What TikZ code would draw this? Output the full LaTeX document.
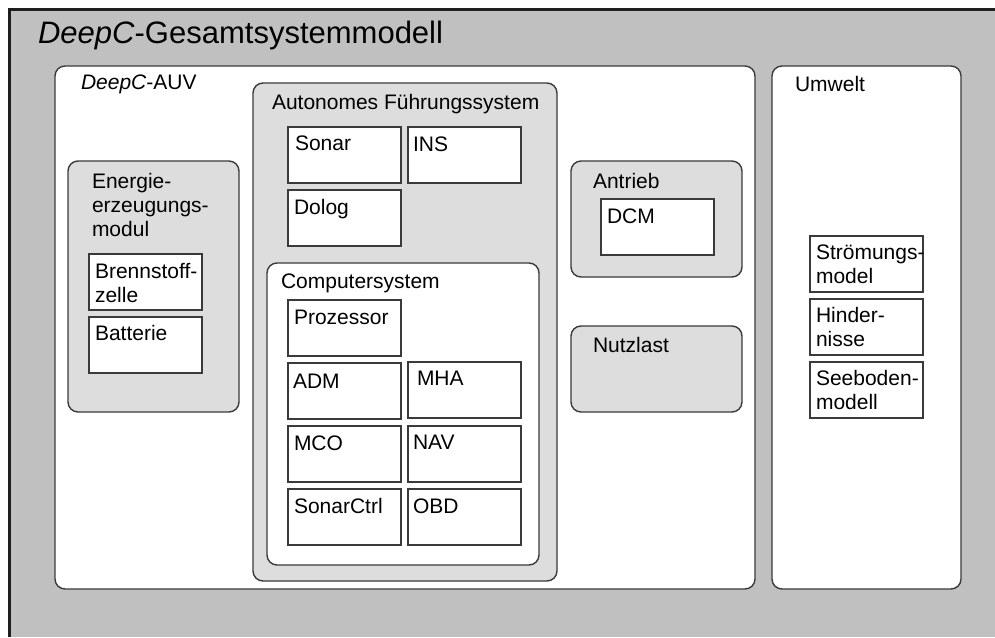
\documentclass[tikz,border=0pt]{standalone}
\usepackage{fontspec}
\setmainfont{Liberation Sans}
\definecolor{outergray}{HTML}{C0C0C0}
\definecolor{boxgray}{HTML}{DDDDDD}
\definecolor{edgecol}{HTML}{3A3A3A}
\definecolor{framecol}{HTML}{1E1E1E}
\newcommand\stacklines[1]{\parbox[t]{140pt}{\raggedright #1}}
\begin{document}
\begin{tikzpicture}[x=1pt,y=-1pt,
  every node/.style={inner sep=0pt, outer sep=0pt},
  roundbox/.style={draw=edgecol, line width=1.4pt, rounded corners=10pt, anchor=north west},
  whitebox/.style={roundbox, fill=white},
  graybox/.style={roundbox, fill=boxgray},
  cell/.style={draw=edgecol, line width=1.2pt, fill=white, anchor=north west,
    minimum width=113pt, minimum height=56pt},
  lbl/.style={anchor=base west, font=\fontsize{21}{24}\selectfont},
  celllbl/.style={lbl},
  titlelbl/.style={anchor=base west, font=\fontsize{31}{36}\selectfont}]
  \useasboundingbox (0,0) rectangle (995,637);

  % outer frame: grey field, heavy rule on the left and top edge
  \fill[outergray] (9,9) rectangle (995,637);
  \draw[framecol, line width=3pt] (9,637) -- (9,9) -- (995,9);
  \node[titlelbl] (title) at (38,43) {\textit{DeepC}-Gesamtsystemmodell};

  % vehicle and environment
  \node[whitebox, minimum width=700pt, minimum height=523pt] (auv) at (55,66) {};
  \node[lbl] (auvlbl) at (81,89) {\textit{DeepC}-AUV};
  \node[whitebox, minimum width=189pt, minimum height=523pt] (umwelt) at (772,66) {};
  \node[lbl] (umweltlbl) at (795,91) {Umwelt};

  % energy module
  \node[graybox, minimum width=171pt, minimum height=251pt] (energie) at (68,161) {};
  \node[lbl] (energielbl) at (92,188) {\stacklines{Energie-\\erzeugungs-\\modul}};
  \node[cell] (brenn) at (89,254) {};
  \node[celllbl] at ([shift={(6,24)}]brenn.north west) {\stacklines{Brennstoff-\\zelle}};
  \node[cell] (batt) at (89,317) {};
  \node[celllbl] at ([shift={(6,23)}]batt.north west) {Batterie};

  % autonomous guidance system
  \node[graybox, minimum width=304pt, minimum height=498pt] (afs) at (253,83) {};
  \node[lbl] (afslbl) at (272,109) {Autonomes Führungssystem};
  \node[cell] (sonar) at (288,127) {};
  \node[celllbl] at ([shift={(7,23)}]sonar.north west) {Sonar};
  \node[cell] (ins) at (408,127) {};
  \node[celllbl] at ([shift={(5,24)}]ins.north west) {INS};
  \node[cell] (dolog) at (288,190) {};
  \node[celllbl] at ([shift={(6,24)}]dolog.north west) {Dolog};

  % computer system
  \node[whitebox, minimum width=272pt, minimum height=302pt] (comp) at (267,263) {};
  \node[lbl] (complbl) at (281,288) {Computersystem};
  \node[cell] (proz) at (288,300) {};
  \node[celllbl] at ([shift={(6,24)}]proz.north west) {Prozessor};
  \node[cell] (adm) at (288,363) {};
  \node[celllbl] at ([shift={(5,25)}]adm.north west) {ADM};
  \node[cell] (mha) at (408,362) {};
  \node[celllbl] at ([shift={(9,23)}]mha.north west) {MHA};
  \node[cell] (mco) at (288,426) {};
  \node[celllbl] at ([shift={(6,24)}]mco.north west) {MCO};
  \node[cell] (nav) at (408,426) {};
  \node[celllbl] at ([shift={(5,23)}]nav.north west) {NAV};
  \node[cell] (sctrl) at (288,489) {};
  \node[celllbl] at ([shift={(6,24)}]sctrl.north west) {SonarCtrl};
  \node[cell] (obd) at (408,489) {};
  \node[celllbl] at ([shift={(5,24)}]obd.north west) {OBD};

  % propulsion and payload
  \node[graybox, minimum width=171pt, minimum height=116pt] (antrieb) at (571,161) {};
  \node[lbl] (antrieblbl) at (593,188) {Antrieb};
  \node[cell] (dcm) at (601,199) {};
  \node[celllbl] at ([shift={(6,24)}]dcm.north west) {DCM};
  \node[graybox, minimum width=171pt, minimum height=86pt] (nutzlast) at (571,326) {};
  \node[lbl] (nutzlastlbl) at (593,352) {Nutzlast};

  % environment models
  \node[cell] (stroem) at (810,236) {};
  \node[celllbl] at ([shift={(6,23)}]stroem.north west) {\stacklines{Strömungs-\\model}};
  \node[cell] (hind) at (810,299) {};
  \node[celllbl] at ([shift={(6,23)}]hind.north west) {\stacklines{Hinder-\\nisse}};
  \node[cell] (seeb) at (810,362) {};
  \node[celllbl] at ([shift={(6,23)}]seeb.north west) {\stacklines{Seeboden-\\modell}};
\end{tikzpicture}
\end{document}
